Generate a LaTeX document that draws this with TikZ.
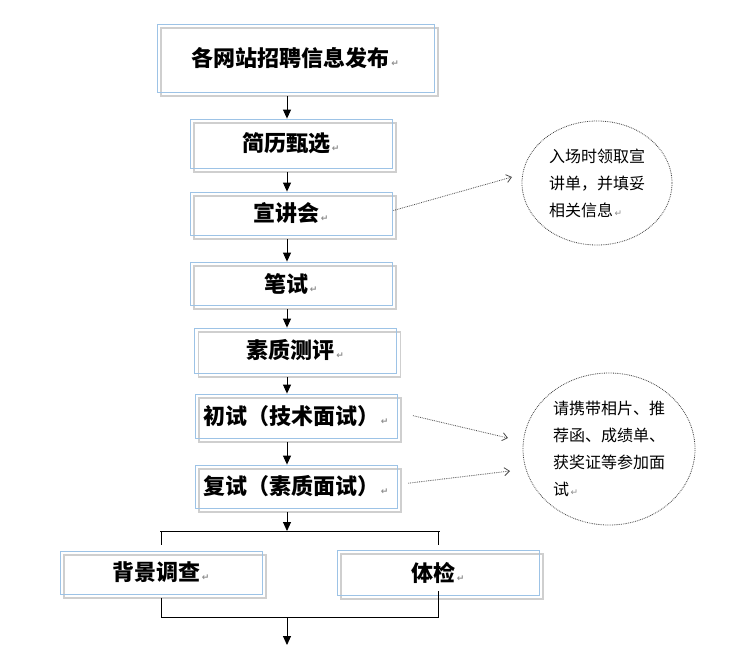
\documentclass[tikz,border=0pt]{standalone}
\usepackage{fontspec}
\newfontfamily\cjk{Noto Sans CJK SC}
\newfontfamily\symfont{DejaVu Sans}
\usetikzlibrary{arrows.meta,shapes.geometric}
\definecolor{boxblue}{HTML}{9DC3E6}
\definecolor{boxgray}{HTML}{CFCFCF}
\definecolor{markgray}{HTML}{8C8C8C}
\newcommand{\pmark}{{\symfont\fontsize{9pt}{9pt}\selectfont\color{markgray}\,↵}}
\tikzset{
  stepbox/.style={draw=boxblue, line width=0.8pt, minimum width=202pt, minimum height=43pt,
    inner sep=0pt, font=\cjk\bfseries\fontsize{22pt}{24pt}\selectfont,
    preaction={draw=boxgray, line width=1.4pt, transform canvas={shift={(4pt,-4pt)}}}},
  note/.style={ellipse, draw=black!75, densely dotted, line width=0.8pt, inner sep=0pt,
    align=left, font=\cjk\fontsize{16pt}{27pt}\selectfont},
  flow/.style={-{Triangle[length=9pt,width=8pt]}, line width=0.9pt},
  hint/.style={-{Straight Barb[length=5pt,width=8pt]}, densely dotted, draw=black!70, line width=0.8pt}
}

\begin{document}
\begin{tikzpicture}[x=1pt,y=-1pt]
    \useasboundingbox (0,0) rectangle (747,670);
    % main steps
    \node[stepbox, minimum width=277pt, minimum height=68pt] (post) at (295.5,58) {各网站招聘信息发布\pmark};
    \node[stepbox, minimum height=49pt] (screen) at (291,143.5) {简历甄选\pmark};
    \node[stepbox] (talk)   at (291,213.5) {宣讲会\pmark};
    \node[stepbox] (exam)   at (291,283.5) {笔试\pmark};
    \node[stepbox, minimum height=45pt] (assess) at (295.5,350.5) {素质测评\pmark};
    \node[stepbox, minimum height=44pt] (first)  at (296,416) {初试（技术面试）\pmark};
    \node[stepbox] (second) at (296,486.5) {复试（素质面试）\pmark};
    \node[stepbox] (check)  at (161,572.5) {背景调查\pmark};
    \node[stepbox, minimum height=45pt] (exam2) at (438,572.5) {体检\pmark};

    % notes
    \node[note, minimum width=150pt, minimum height=124pt] (note1) at (597,183)
        {入场时领取宣\\讲单，并填妥\\相关信息\pmark};
    \node[note, minimum width=172pt, minimum height=152pt] (note2) at (609,449)
        {请携带相片、推\\荐函、成绩单、\\获奖证等参加面\\试\pmark};

    \coordinate (axis)  at (287,0);
    \coordinate (split) at (287,531);
    \coordinate (merge) at (287,617);
    \coordinate (out)   at (287,645);
    \coordinate (t1) at (512,177);
    \coordinate (t2) at (508,438);
    \coordinate (t3) at (510,471);

    % flow
    \draw[flow] (post.south -| axis) ++(0,4) -- (screen.north -| axis);
    \draw[flow] (screen.south -| axis) ++(0,4) -- (talk.north -| axis);
    \draw[flow] (talk.south -| axis) ++(0,4) -- (exam.north -| axis);
    \draw[flow] (exam.south -| axis) ++(0,4) -- (assess.north -| axis);
    \draw[flow] (assess.south -| axis) ++(0,4) -- (first.north -| axis);
    \draw[flow] (first.south -| axis) ++(0,4) -- (second.north -| axis);
    \draw[flow] (second.south -| axis) ++(0,4) -- (split);
    \draw[line width=0.8pt] (check.north |- split) ++(-1,0) -- ([xshift=2pt]exam2.north |- split);
    \draw[line width=0.8pt] (check.north |- split) -- ++(0,14);
    \draw[line width=0.8pt] (exam2.north |- split) -- ++(0,14);
    \draw[line width=0.8pt] (check.south) ++(0,4) -- (check.south |- merge) -- (exam2.south |- merge) -- ([yshift=4pt]exam2.south);
    \draw[flow] (merge) -- (out);

    % hints
    \draw[hint] (talk.east) ++(1,-3) -- (t1);
    \draw[hint, shorten <=16pt] (first.east) ++(0,-4) -- (t2);
    \draw[hint, shorten <=11pt] (second.east) ++(0,-2) -- (t3);
\end{tikzpicture}
\end{document}
